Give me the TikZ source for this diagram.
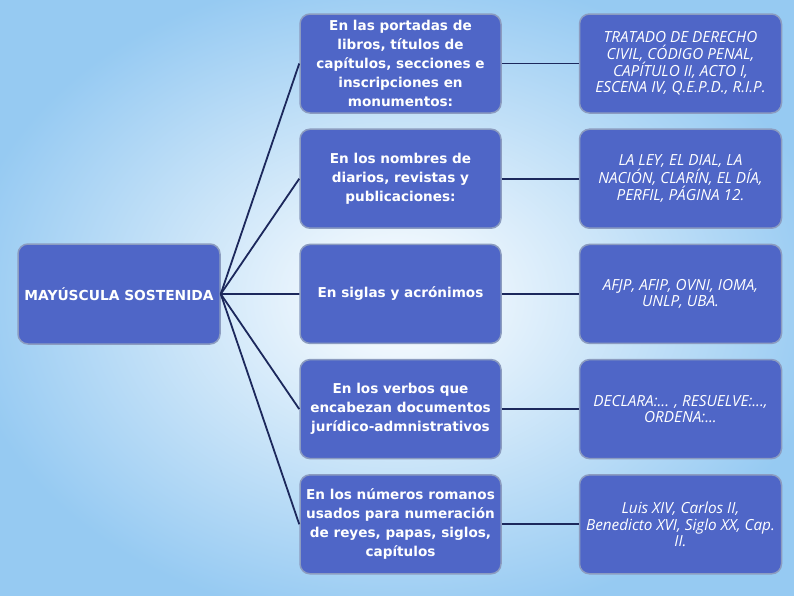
\documentclass[tikz,border=0pt]{standalone}
\usepackage{fontspec}
\setmainfont{DejaVu Sans}
\newfontfamily\exfont{Open Sans}
\usetikzlibrary{positioning, shapes.misc}

\definecolor{boxblue}{RGB}{79,102,199}
\definecolor{boxrim}{RGB}{140,156,192}
\definecolor{linknavy}{RGB}{28,40,92}
\definecolor{bgblue}{RGB}{150,202,242}

\begin{document}
\begin{tikzpicture}[x=1pt, y=-1pt,
    rulebox/.style={draw=boxrim, line width=1.5pt, fill=boxblue, rounded corners=10pt,
        minimum width=201pt, minimum height=99pt, inner sep=1pt, text=white, align=center},
    midbox/.style={rulebox, font=\bfseries\fontsize{13.6}{19}\selectfont},
    exbox/.style={rulebox, minimum width=202pt, font=\exfont\itshape\fontsize{15.3}{16.2}\selectfont},
    link/.style={draw=linknavy, line width=1.8pt}]
    \def\midX{400.5}
    \def\exX{680.5}
    \def\topY{63.5}
    \def\rowGap{115.2}

    % Background
    \useasboundingbox (0,0) rectangle (794,595);
    \clip (0,0) rectangle (794,595);
    \shade[inner color=white, outer color=bgblue] (-40,-30) rectangle (834,625);

    % Root box
    \node[rulebox, minimum width=202pt, minimum height=100pt,
        font=\bfseries\fontsize{13.8}{16}\selectfont] (root) at (119,294) {MAYÚSCULA SOSTENIDA};

    % Draw rows: rule and examples
    \foreach \mtext/\etext [count=\i] in {
        {En las portadas de\\libros, títulos de\\capítulos, secciones e\\inscripciones en\\monumentos:}/{TRATADO DE DERECHO\\CIVIL, CÓDIGO PENAL,\\CAPÍTULO II, ACTO I,\\ESCENA IV, Q.E.P.D., R.I.P.},
        {En los nombres de\\diarios, revistas y\\publicaciones:}/{LA LEY, EL DIAL, LA\\NACIÓN, CLARÍN, EL DÍA,\\PERFIL, PÁGINA 12.},
        {En siglas y acrónimos}/{AFJP, AFIP, OVNI, IOMA,\\UNLP, UBA.},
        {En los verbos que\\encabezan documentos\\jurídico-admnistrativos}/{DECLARA:... , RESUELVE:...,\\ORDENA:...},
        {En los números romanos\\usados para numeración\\de reyes, papas, siglos,\\capítulos}/{Luis XIV, Carlos II,\\Benedicto XVI, Siglo XX, Cap.\\II.}} {
        \node[midbox] (mid\i) at ({\midX}, {\topY + (\i - 1) * \rowGap}) {\mtext};
        \node[exbox] (ex\i) at ({\exX}, {\topY + (\i - 1) * \rowGap}) {\etext};
        \draw[link] (root.east) -- (mid\i.west);
        \draw[link] (mid\i.east) -- (ex\i.west);
    }
\end{tikzpicture}
\end{document}
